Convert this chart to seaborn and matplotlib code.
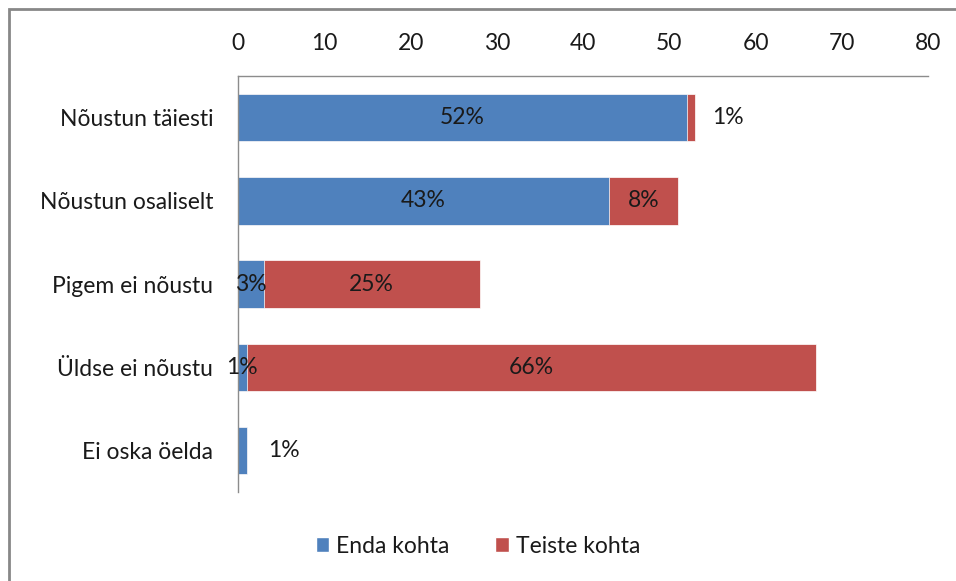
import pandas as pd
import numpy as np
import matplotlib
matplotlib.use('Agg')
import matplotlib.pyplot as plt
import seaborn as sns
from matplotlib.patches import Rectangle, Patch

# ── Data ──────────────────────────────────────
categories = ['Nõustun täiesti', 'Nõustun osaliselt', 'Pigem ei nõustu',
              'Üldse ei nõustu', 'Ei oska öelda']
enda = [52, 43, 3, 1, 1]
teiste = [1, 8, 25, 66, 0]
series_names = ['Enda kohta', 'Teiste kohta']
x_ticks = [0, 10, 20, 30, 40, 50, 60, 70, 80]

blue = '#4F81BD'
red = '#C0504D'
txt = '#1a1a1a'
fs = 16.5

df = pd.DataFrame({'cat': categories, 'enda': enda, 'teiste': teiste})
df['total'] = df['enda'] + df['teiste']

sns.set_style('white')
plt.rcParams['font.family'] = ['Lato', 'DejaVu Sans']

fig = plt.figure(figsize=(9.56, 5.81), dpi=100)
ax = fig.add_axes([0.249, 0.153, 0.722, 0.716])

# stacked: total in red, then blue on top
sns.barplot(data=df, x='total', y='cat', orient='h', color=red,
            width=0.57, saturation=1, ax=ax,
            edgecolor='white', linewidth=0.5)
sns.barplot(data=df, x='enda', y='cat', orient='h', color=blue,
            width=0.57, saturation=1, ax=ax,
            edgecolor='white', linewidth=0.5)

ax.set_xlim(0, 80)
ax.set_ylim(len(categories) - 0.5, -0.5)
ax.set_xticks(x_ticks)
ax.xaxis.tick_top()
ax.tick_params(axis='x', length=0, labelsize=fs, pad=16, colors=txt)
ax.tick_params(axis='y', length=0, labelsize=fs, pad=18, colors=txt)
ax.set_xlabel('')
ax.set_ylabel('')

for s in ['right', 'bottom']:
    ax.spines[s].set_visible(False)
for s in ['top', 'left']:
    ax.spines[s].set_color('#8c8c8c')
    ax.spines[s].set_linewidth(1)

# ── Data labels ───────────────────────────────
for i, (e, t) in enumerate(zip(enda, teiste)):
    if t == 0:
        # only blue segment, label outside
        ax.text(e + 4.3, i, f'{e}%', ha='center', va='center',
                fontsize=fs, color=txt)
    else:
        ax.text(e / 2, i, f'{e}%', ha='center', va='center',
                fontsize=fs, color=txt)
    if t == 0:
        continue
    if t < 3:
        ax.text(e + t + 3.8, i, f'{t}%', ha='center', va='center',
                fontsize=fs, color=txt)
    else:
        ax.text(e + t / 2, i, f'{t}%', ha='center', va='center',
                fontsize=fs, color=txt)

# ── Legend ────────────────────────────────────
handles = [Patch(facecolor=blue), Patch(facecolor=red)]
fig.legend(handles, series_names, loc='center', ncol=2,
           bbox_to_anchor=(0.5, 0.06), frameon=False, fontsize=fs,
           handlelength=0.6, handleheight=0.6, handletextpad=0.3,
           columnspacing=2.0, labelcolor=txt)

# figure frame (cut off at right and bottom)
fig.patches.append(Rectangle((9 / 956, -0.1), 1.2, 1 - 9 / 581 + 0.1,
                             transform=fig.transFigure, fill=False,
                             edgecolor='#888888', linewidth=2))

fig.savefig('out.png', dpi=100)
